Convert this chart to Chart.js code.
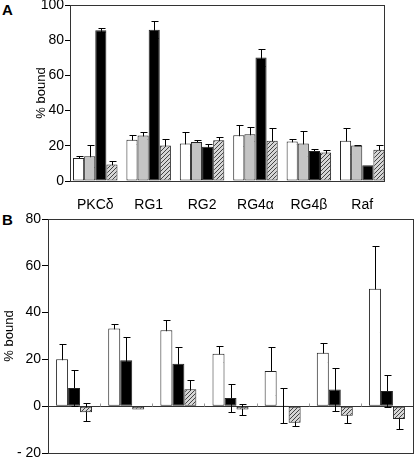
<!DOCTYPE html>
<html>
<head>
<meta charset="utf-8">
<script src="https://cdn.jsdelivr.net/npm/chart.js@4/dist/chart.umd.min.js"></script>
<style>
body { margin: 0; background: #fff; width: 416px; height: 458px; position: relative; overflow: hidden;
       font-family: "Liberation Sans", Arial, sans-serif; }
.panel { position: absolute; left: 0; }
#panelA { top: 0; }
#panelB { top: 205px; }
.letter { position: absolute; left: 2px; font-weight: bold; font-size: 15px; line-height: 15px; color: #000; }
</style>
</head>
<body>
<div class="letter" style="top:2px">A</div>
<div class="letter" style="top:212px">B</div>
<canvas id="panelA" class="panel" width="416" height="210"></canvas>
<canvas id="panelB" class="panel" width="416" height="253"></canvas>
<script>
// Panel A data (% bound, mean and error)
const catsA = ['PKCδ', 'RG1', 'RG2', 'RG4α', 'RG4β', 'Raf'];
const whiteA = [13, 23.5, 21.3, 26, 22.4, 22.8];
const whiteErrA = [1.3, 2.7, 6.7, 6, 1.3, 7.2];
const grayA = [14, 25.8, 22.2, 26.5, 21.3, 20.2];
const grayErrA = [6.3, 2.2, 1.3, 4, 7.3, 0.4];
const blackA = [85.7, 86, 19.4, 70.2, 17, 9];
const blackErrA = [1.3, 5, 1.5, 4.6, 0.9, 0];
const hatchA = [9.4, 20.2, 23.2, 22.8, 16.2, 17.7];
const hatchErrA = [1.7, 3.8, 1.8, 7.2, 1.5, 3];
const ticksA = [0, 20, 40, 60, 80, 100];

// Panel B data
const catsB = ['nil', 'OA', 'AA', 'Cer.', 'Sph-1P', 'LPA', 'DAG'];
const whiteB = [20.1, 33.2, 32.5, 22.4, 15, 22.8, 50.2];
const whiteErrB = [6.5, 2.1, 4.2, 3.4, 10.4, 4, 18.3];
const blackB = [7.8, 19.6, 18.1, 3.5, 0.3, 7.1, 6.5];
const blackErrB = [7.6, 9.8, 7.3, 6, 7.4, 9.1, 7];
const hatchB = [-2.6, -1.4, 7.2, -1.4, -7.1, -4.1, -5.5];
const hatchErrB = [3.8, 0, 3.8, 2.5, 1.4, 2.9, 4.4];
const ticksB = [-20, 0, 20, 40, 60, 80];

const FONT = { family: '"Liberation Sans", Arial, sans-serif', size: 14 };
const TITLE_FONT = { family: '"Liberation Sans", Arial, sans-serif', size: 13 };

function makeHatch() {
    const c = document.createElement('canvas');
    c.width = 4; c.height = 4;
    const g = c.getContext('2d');
    g.fillStyle = '#d6d6d6';
    g.fillRect(0, 0, 4, 4);
    g.strokeStyle = '#444';
    g.lineWidth = 1;
    g.beginPath();
    g.moveTo(0, 4); g.lineTo(4, 0);
    g.moveTo(-1, 1); g.lineTo(1, -1);
    g.moveTo(3, 5); g.lineTo(5, 3);
    g.stroke();
    return g.createPattern(c, 'repeat');
}
const hatch = makeHatch();

// error bars drawn behind the bars, so only the part outside a bar shows
const errorBars = {
    id: 'errorBars',
    beforeDatasetsDraw(chart) {
        const ctx = chart.ctx;
        const y = chart.scales.y;
        ctx.save();
        ctx.strokeStyle = '#000';
        ctx.lineWidth = 1;
        chart.data.datasets.forEach((ds, i) => {
            chart.getDatasetMeta(i).data.forEach((bar, j) => {
                const e = ds.errors[j];
                if (!e) return;
                const v = ds.data[j];
                const top = Math.round(y.getPixelForValue(v + e)) + 0.5;
                const bot = Math.round(y.getPixelForValue(v - e)) + 0.5;
                const x = Math.round(bar.x) + 0.5;
                ctx.beginPath();
                ctx.moveTo(x, top); ctx.lineTo(x, bot);
                ctx.moveTo(x - 3, top); ctx.lineTo(x + 4, top);
                ctx.moveTo(x - 3, bot); ctx.lineTo(x + 4, bot);
                ctx.stroke();
            });
        });
        ctx.restore();
    }
};

// frame round the plot area, small ticks on the zero line
const frame = {
    id: 'frame',
    afterDraw(chart, args, opts) {
        const a = chart.chartArea;
        const ctx = chart.ctx;
        ctx.save();
        ctx.strokeStyle = '#333';
        ctx.lineWidth = 1;
        ctx.strokeRect(Math.round(a.left) + 0.5, Math.round(a.top) + 0.5,
                       Math.round(a.right - a.left), Math.round(a.bottom - a.top));
        if (opts.zeroTicks) {
            const x = chart.scales.x;
            const y0 = Math.round(chart.scales.y.getPixelForValue(0)) + 0.5;
            ctx.strokeStyle = '#999';
            ctx.beginPath();
            for (let i = 1; i < chart.data.labels.length; i++) {
                const xm = Math.round((x.getPixelForTick(i - 1) + x.getPixelForTick(i)) / 2) + 0.5;
                ctx.moveTo(xm, y0 - 3); ctx.lineTo(xm, y0);
            }
            ctx.stroke();
        }
        ctx.restore();
    }
};

function bars(label, data, errors, fill, catPct) {
    return {
        label: label, data: data, errors: errors,
        backgroundColor: fill, borderColor: '#222', borderWidth: 1,
        borderSkipped: false, inflateAmount: 0,
        categoryPercentage: catPct, barPercentage: 1
    };
}

function yAxis(min, max, stepTicks, width, titlePad, tickLen) {
    return {
        min: min, max: max,
        afterBuildTicks: s => { s.ticks = stepTicks.map(v => ({ value: v })); },
        afterFit: s => { s.width = width; s.paddingTop = 0; s.paddingBottom = 0; },
        ticks: {
            font: FONT, color: '#000', padding: 1,
            callback: v => v < 0 ? '- ' + Math.abs(v) : v
        },
        grid: {
            drawOnChartArea: min < 0,
            color: c => (c.tick && c.tick.value === 0) ? '#333' : 'rgba(0,0,0,0)',
            tickColor: '#000', tickLength: tickLen
        },
        border: { color: '#000' },
        title: { display: true, text: '% bound', font: TITLE_FONT, color: '#000', padding: { top: titlePad, bottom: 0 } }
    };
}

new Chart(document.getElementById('panelA'), {
    type: 'bar',
    data: {
        labels: catsA,
        datasets: [
            bars('white', whiteA, whiteErrA, '#ffffff', 0.833),
            bars('gray', grayA, grayErrA, '#c4c4c4', 0.833),
            bars('black', blackA, blackErrA, '#000000', 0.833),
            bars('hatched', hatchA, hatchErrA, hatch, 0.833)
        ]
    },
    options: {
        responsive: false,
        animation: false,
        layout: { padding: { left: 0, top: 5, right: 32, bottom: 0 } },
        plugins: { legend: { display: false }, tooltip: { enabled: false }, frame: {} },
        scales: {
            x: {
                afterFit: s => {
                    s.height = 29; s.paddingLeft = 0; s.paddingRight = 0;
                    // groups sit closer to the frame than the default half-category offset
                    s._startValue = -0.473; s._valueRange = 5.88;
                },
                grid: { display: false },
                border: { color: '#000' },
                ticks: { font: FONT, color: '#000', padding: 8, autoSkip: false, maxRotation: 0 }
            },
            y: yAxis(0, 100, ticksA, 70, 34, 5)
        }
    },
    plugins: [errorBars, frame]
});

new Chart(document.getElementById('panelB'), {
    type: 'bar',
    data: {
        labels: catsB,
        datasets: [
            bars('white', whiteB, whiteErrB, '#ffffff', 0.69),
            bars('black', blackB, blackErrB, '#000000', 0.69),
            bars('hatched', hatchB, hatchErrB, hatch, 0.69)
        ]
    },
    options: {
        responsive: false,
        animation: false,
        layout: { padding: { left: 0, top: 14, right: 3, bottom: 5 } },
        plugins: { legend: { display: false }, tooltip: { enabled: false }, frame: { zeroTicks: true } },
        scales: {
            x: {
                afterFit: s => { s.height = 0; s.paddingLeft = 0; s.paddingRight = 0; },
                grid: { display: false },
                border: { display: false },
                ticks: { font: FONT, color: '#000', padding: -17, autoSkip: false, maxRotation: 0 }
            },
            y: yAxis(-20, 80, ticksB, 48, 2, 6)
        }
    },
    plugins: [errorBars, frame]
});
</script>
</body>
</html>
